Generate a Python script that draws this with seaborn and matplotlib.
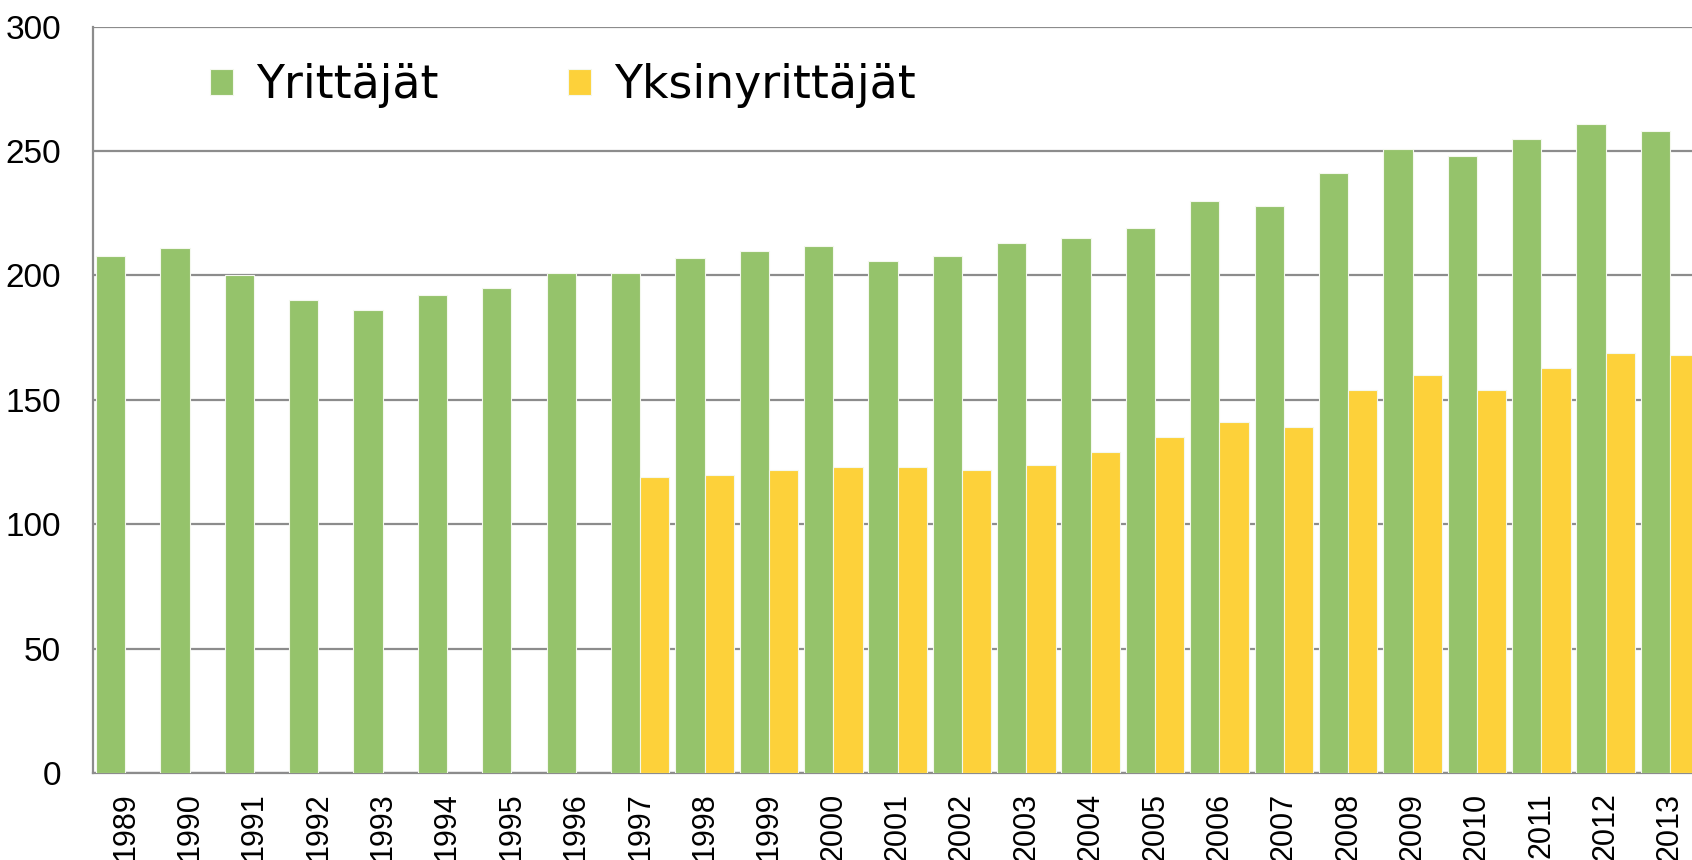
import numpy as np
import pandas as pd
import matplotlib
matplotlib.use("Agg")
import matplotlib.pyplot as plt
import seaborn as sns

years = [str(y) for y in range(1989, 2014)]
yrittajat = [208, 211, 200, 190, 186, 192, 195, 201, 201, 207, 210, 212, 206,
             208, 213, 215, 219, 230, 228, 241, 251, 248, 255, 261, 258]
yksinyrittajat = [np.nan] * 8 + [119, 120, 122, 123, 123, 122, 124, 129, 135,
                                 141, 139, 154, 160, 154, 163, 169, 168]
series = ["Yrittäjät", "Yksinyrittäjät"]
colors = ["#95C36B", "#FDD13A"]
yticks = [0, 50, 100, 150, 200, 250, 300]

df = pd.DataFrame({"year": years * 2,
                   "value": yrittajat + yksinyrittajat,
                   "series": [series[0]] * len(years) + [series[1]] * len(years)})

sns.set_style("white")
plt.rcParams["text.color"] = "black"
fig = plt.figure(figsize=(16.92, 8.6), dpi=100)
ax = fig.add_axes([0.055, 0.101, 0.951, 0.868])

sns.barplot(data=df, x="year", y="value", hue="series", hue_order=series,
            palette=colors, width=0.91, edgecolor="#F4F8EE", linewidth=0.8,
            saturation=1, ax=ax, zorder=3)

ax.set_ylim(0, 300)
ax.set_xlim(-0.5, len(years) - 0.5)
ax.yaxis.grid(True, color="#8C8C8C", linewidth=1.6, zorder=0)
ax.set_axisbelow(True)
ax.set_xlabel("")
ax.set_ylabel("")

for s in ["top", "right"]:
    ax.spines[s].set_visible(False)
for s in ["left", "bottom"]:
    ax.spines[s].set_color("#8C8C8C")
    ax.spines[s].set_linewidth(1.6)

# x labels are as large as in the source chart, where they run off the bottom
ax.set_xticks(range(len(years)))
ax.set_xticklabels(years, rotation=90, fontfamily="Liberation Sans",
                   fontsize=22, color="black")
ax.set_yticks(yticks)
ax.set_yticklabels([str(v) for v in yticks], fontfamily="Liberation Sans",
                   fontsize=24, color="black")
ax.set_xticks(np.arange(-0.5, len(years), 1), minor=True)
ax.tick_params(axis="x", which="major", length=0, pad=14)
ax.tick_params(axis="x", which="minor", length=9, width=1.4, color="#8C8C8C")
ax.tick_params(axis="y", length=7, width=1.4, color="#8C8C8C", pad=16)

ax.legend(loc="upper left", bbox_to_anchor=(0.047, 1.006), ncol=2, frameon=False,
          prop={"family": "DejaVu Sans", "size": 33}, handlelength=0.5,
          handleheight=0.5, handletextpad=0.5, columnspacing=2.84,
          labelcolor="black")

fig.savefig("out.png", dpi=100)
